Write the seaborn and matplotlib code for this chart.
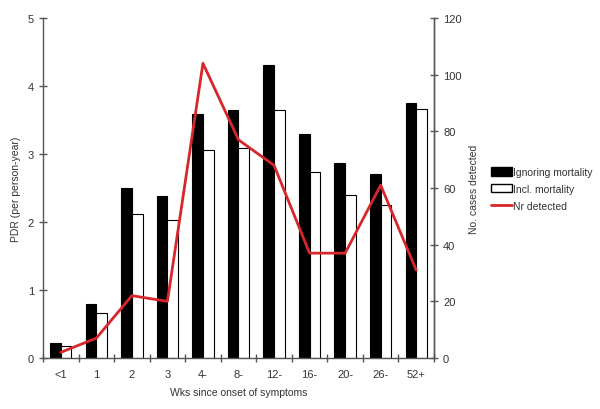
import numpy as np
import pandas as pd
import matplotlib
matplotlib.use("Agg")
import matplotlib.pyplot as plt
import seaborn as sns
from matplotlib.patches import Patch
from matplotlib.lines import Line2D

# data
weeks = ["<1", "1", "2", "3", "4-", "8-", "12-", "16-", "20-", "26-", "52+"]
pdr_ignoring = [0.22, 0.79, 2.50, 2.38, 3.59, 3.65, 4.31, 3.30, 2.87, 2.71, 3.75]
pdr_incl = [0.18, 0.66, 2.12, 2.03, 3.06, 3.09, 3.65, 2.74, 2.39, 2.25, 3.66]
nr_detected = [2, 7, 22, 20, 104, 77, 68, 37, 37, 61, 31]

sns.set_theme(style="white")
plt.rcParams["font.family"] = ["Liberation Sans", "DejaVu Sans"]
grey = "#555555"
txt = "#333333"

df = pd.DataFrame({
    "week": weeks * 2,
    "pdr": pdr_ignoring + pdr_incl,
    "kind": ["Ignoring mortality"] * len(weeks) + ["Incl. mortality"] * len(weeks),
})

fig = plt.figure(figsize=(6, 4.1), dpi=100)
ax = fig.add_axes([43 / 600, 1 - 359 / 410, 391 / 600, 340 / 410])

sns.barplot(data=df, x="week", y="pdr", hue="kind", order=weeks,
            hue_order=["Ignoring mortality", "Incl. mortality"],
            palette=["black", "white"], width=0.6, dodge=True,
            edgecolor="black", linewidth=0.8, saturation=1, legend=False, ax=ax)

ax.set_xlim(-0.5, len(weeks) - 0.5)
ax.set_ylim(0, 5)
ax.set_yticks(range(6))
ax.set_xticks(np.arange(len(weeks)))
ax.set_xticklabels(weeks)
ax.set_xticks(np.arange(len(weeks) + 1) - 0.5, minor=True)
ax.tick_params(axis="x", which="major", length=0, pad=8, labelsize=8, colors=txt)
ax.tick_params(axis="x", which="minor", length=6, direction="inout", color=grey, width=1, bottom=True)
ax.tick_params(axis="y", length=6, direction="inout", color=grey, width=1, labelsize=8, labelcolor=txt, left=True)
ax.set_xlabel("Wks since onset of symptoms", fontsize=7.5, color=txt, labelpad=6)
ax.set_ylabel("PDR (per person-year)", fontsize=7.5, color=txt, labelpad=5)
for s in ["left", "bottom", "right"]:
    ax.spines[s].set_color(grey)
    ax.spines[s].set_linewidth(1)
ax.spines["top"].set_visible(False)

ax2 = ax.twinx()
sns.lineplot(x=np.arange(len(weeks)), y=nr_detected, color="#d8262a", lw=2, ax=ax2)
ax2.set_ylim(0, 120)
ax2.set_yticks(range(0, 121, 20))
ax2.tick_params(axis="y", length=6, direction="inout", color=grey, width=1, labelsize=8, labelcolor=txt, right=True)
ax2.set_ylabel("No. cases detected", fontsize=7.5, color=txt, labelpad=5)
for s in ["left", "bottom", "top"]:
    ax2.spines[s].set_visible(False)
ax2.spines["right"].set_color(grey)
ax2.spines["right"].set_linewidth(1)

handles = [
    Patch(facecolor="black", edgecolor="black", label="Ignoring mortality"),
    Patch(facecolor="white", edgecolor="black", label="Incl. mortality"),
    Line2D([], [], color="#d8262a", lw=2, label="Nr detected"),
]
fig.legend(handles=handles, loc="upper left", bbox_to_anchor=(491 / 600, 1 - 168 / 410),
           frameon=False, fontsize=7.5, handlelength=2.0, handleheight=0.85,
           handletextpad=0.15, borderpad=0, borderaxespad=0, labelspacing=0.65,
           labelcolor=txt)

fig.savefig("out.png", dpi=100)
